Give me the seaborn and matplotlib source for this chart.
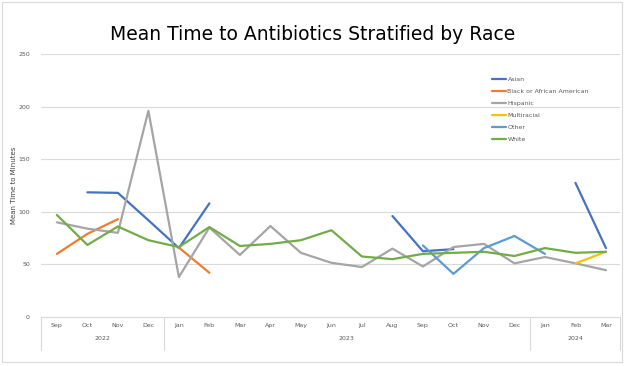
import numpy as np
import pandas as pd
import matplotlib.pyplot as plt
import seaborn as sns
from matplotlib.patches import Rectangle
from matplotlib.lines import Line2D

months = ['Sep', 'Oct', 'Nov', 'Dec', 'Jan', 'Feb', 'Mar', 'Apr', 'May', 'Jun',
          'Jul', 'Aug', 'Sep', 'Oct', 'Nov', 'Dec', 'Jan', 'Feb', 'Mar']
years = ['2022', '2023', '2024']
year_spans = [(0, 3), (4, 15), (16, 18)]
nan = np.nan

asian = [nan, 118.5, 118, 92, 65.5, 108, nan, nan, nan, nan, nan, 96, 62.5, 64.5, nan, nan, nan, 127.5, 65.5]
black = [60, 79, 93, nan, 66, 42, nan, nan, nan, nan, nan, nan, nan, nan, nan, nan, nan, nan, nan]
hispanic = [90, 84, 80, 196, 38, 85, 59, 86.5, 61, 51.5, 47.5, 65, 48, 66.5, 69.5, 51, 57, 51, 44.5]
multiracial = [nan] * 17 + [51, 62]
other = [nan] * 12 + [68, 41, 65.5, 77, 60, nan, nan]
white = [97, 68.5, 86, 73, 66.5, 85.5, 67.5, 69.5, 73, 82.5, 57.5, 55, 60, 61, 62, 58, 65.5, 61, 62]

races = ['Asian', 'Black or African American', 'Hispanic', 'Multiracial', 'Other', 'White']
series = [asian, black, hispanic, multiracial, other, white]
colors = ['#4472C4', '#ED7D31', '#A5A5A5', '#FFC000', '#5B9BD5', '#70AD47']

# split into contiguous segments so gaps stay gaps
rows = []
seg = 0
for race, vals in zip(races, series):
    prev = False
    for i, v in enumerate(vals):
        if np.isnan(v):
            prev = False
            continue
        if not prev:
            seg += 1
        rows.append({'x': i, 'value': v, 'race': race, 'seg': seg})
        prev = True
df = pd.DataFrame(rows)

sns.set_style('white')
fig = plt.figure(figsize=(6.25, 3.66), dpi=100)
ax = fig.add_axes([41 / 625, 1 - 317 / 366, 579 / 625, 263 / 366])

sns.lineplot(data=df, x='x', y='value', hue='race', units='seg', estimator=None,
             palette=dict(zip(races, colors)), hue_order=races, linewidth=1.6,
             legend=False, ax=ax)

ax.set_ylim(0, 250)
ax.set_xlim(-0.52, 18.46)
ax.set_yticks(range(0, 251, 50))
ax.yaxis.grid(True, color='#d9d9d9', linewidth=0.8)
ax.set_axisbelow(True)
for s in ['top', 'right', 'left']:
    ax.spines[s].set_visible(False)
ax.spines['bottom'].set_color('#d9d9d9')
ax.tick_params(axis='y', labelsize=4.5, labelcolor='#595959', length=0, pad=8)
ax.set_xticks(range(len(months)))
ax.set_xticklabels(months, fontsize=4.5, color='#595959')
ax.tick_params(axis='x', length=0, pad=4)
ax.set_xlabel('')
ax.set_ylabel('Mean Time to Minutes', fontsize=5, color='#404040', labelpad=1)

# year row and separators
trans = ax.get_xaxis_transform()
for x in [-0.52, 3.5, 15.5, 18.46]:
    ax.add_line(Line2D([x, x], [0, -0.125], transform=trans, color='#d9d9d9',
                       linewidth=0.8, clip_on=False))
for yr, (a, b) in zip(years, year_spans):
    ax.text((a + b) / 2, -0.08, yr, transform=trans, ha='center', va='center',
            fontsize=4.5, color='#595959')

handles = [Line2D([0], [0], color=c, linewidth=1.6) for c in colors]
leg = ax.legend(handles, races, loc='upper left', bbox_to_anchor=(0.77, 0.935),
                frameon=False, fontsize=4.5, handlelength=2.2, handletextpad=0.2,
                labelspacing=1.05)
for t in leg.get_texts():
    t.set_color('#595959')

fig.text(0.5, 1 - 35 / 366, 'Mean Time to Antibiotics Stratified by Race',
         ha='center', va='center', fontsize=13.5, color='#000000')

fig.patches.append(Rectangle((2 / 625, 4 / 366), 620 / 625, 360 / 366, transform=fig.transFigure,
                             fill=False, edgecolor='#d9d9d9', linewidth=0.8))

fig.savefig('out.png', dpi=100)
